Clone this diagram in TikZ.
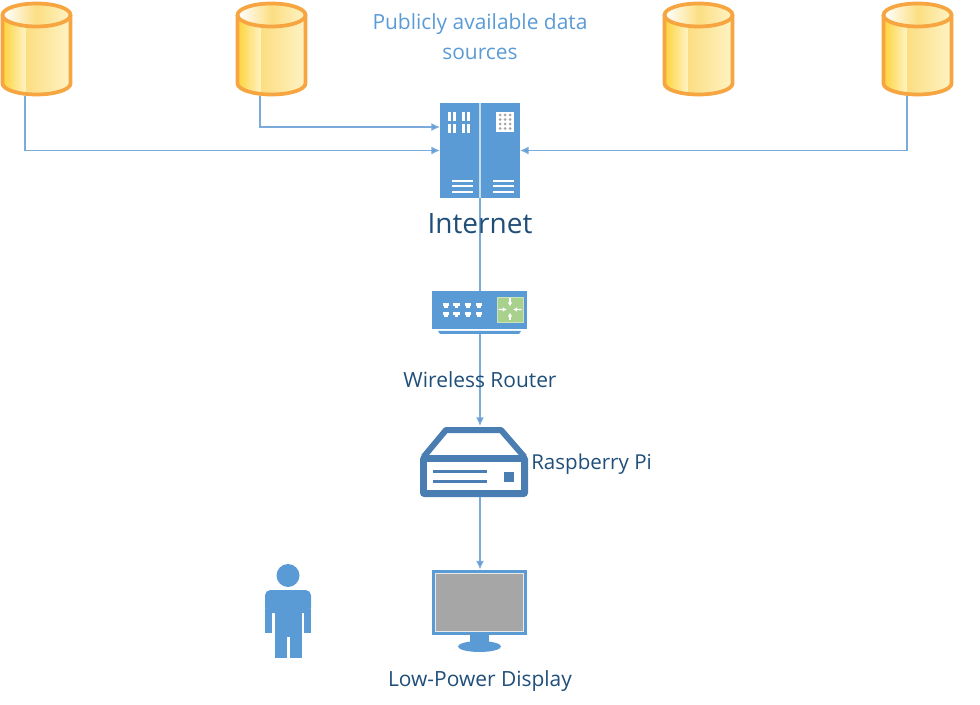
\documentclass[tikz,border=0pt]{standalone}
\usepackage{fontspec}
\setmainfont{Open Sans}
\usetikzlibrary{arrows.meta, positioning, calc}
\definecolor{linkblue}{RGB}{123, 171, 219}
\definecolor{iconblue}{RGB}{91, 155, 213}
\definecolor{pilotblue}{RGB}{74, 126, 178}
\definecolor{labelblue}{RGB}{31, 78, 121}
\definecolor{dborange}{RGB}{246, 165, 64}
\definecolor{dbgold}{RGB}{254, 211, 58}
\definecolor{dbmid}{RGB}{252, 222, 130}
\definecolor{dbpale}{RGB}{254, 243, 196}
\definecolor{routergreen}{RGB}{169, 209, 142}
\definecolor{screengray}{RGB}{166, 166, 166}
\tikzset{
  link/.style={draw=linkblue, line width=0.9pt},
  linkarrow/.style={link, -{Latex[length=6.5pt, width=6pt, fill=iconblue]}},
  iconbox/.style={inner sep=0pt, outer sep=0pt, minimum width=#1},
  caption/.style={text=labelblue, font=\fontsize{15.7}{18}\selectfont, inner sep=0pt},
  dbsource/.pic={
    \begin{scope}
      \clip (0.5,12.5) -- (0.5,81) arc[start angle=180, end angle=0, x radius=34, y radius=11] -- (68.5,12.5) -- cycle;
      \shade[left color=dbgold, right color=dbpale] (0.5,0) rectangle (24,95);
      \shade[left color=dbmid, right color=dbpale] (24,0) rectangle (68.5,95);
    \end{scope}
    \shade[left color=white, right color=dbpale, middle color=dbmid]
      (34.5,12.5) ellipse[x radius=33, y radius=11.5];
    \draw[dborange, line width=2.8pt] (0.5,12.5) -- (0.5,81) arc[start angle=180, end angle=0, x radius=34, y radius=11] -- (68.5,12.5);
    \draw[dborange, line width=2.8pt] (34.5,12.5) ellipse[x radius=34, y radius=11.5];
  },
  serverrack/.pic={
    \fill[iconblue] (0,0) rectangle (80,95);
    \draw[white!65!iconblue, line width=1pt] (40,0) -- (40,95);
    \foreach \x in {7.5,12.7,22,26.7} {
      \fill[white] (\x,9) rectangle ++(3,9);
      \fill[white] (\x,21) rectangle ++(3,9);
    }
    \fill[white] (56,9) rectangle (74,29);
    \foreach \x in {60,65,70}
      \foreach \y in {12,16.5,21,25.5}
        \fill[screengray] (\x,\y) circle[radius=1.5];
    \foreach \y in {77,82,88} {
      \fill[white] (12,\y) rectangle (33,\y+1.6);
      \fill[white] (53,\y) rectangle (74,\y+1.6);
    }
  },
  wifirouter/.pic={
    \fill[iconblue] (0,0) rectangle (95,38);
    \fill[iconblue] (6,40) -- (89,40) -- (87,43) -- (8,43) -- cycle;
    \foreach \x in {14,24.5,36,47} {
      \fill[white] (\x-3.2,12) rectangle ++(6.4,3.5);
      \fill[white] (\x-1.6,15.5) rectangle ++(3.2,1.5);
      \fill[white] (\x-3.2,21) rectangle ++(6.4,3.5);
      \fill[white] (\x-1.6,24.5) rectangle ++(3.2,1.5);
    }
    \fill[routergreen, draw=white!40!routergreen, line width=0.6pt] (65,6) rectangle (91,31);
    \foreach \a/\b in {78/7.5, 78/29.5, 66.5/18.5, 89.5/18.5}
      \draw[white, line width=0.8pt, -{Latex[length=3pt, width=3.5pt]}] (\a,\b) -- ($(\a,\b)!0.72!(78,18.5)$);
  },
  pibox/.pic={
    \draw[pilotblue, line width=4.5pt, line join=round] (3.5,31) -- (26,4) -- (81,4) -- (104.5,31);
    \fill[pilotblue, rounded corners=3pt] (0,29) rectangle (108,71);
    \fill[white] (7,36) rectangle (101,64);
    \fill[pilotblue] (13,44) rectangle (67,47);
    \fill[pilotblue] (13,54) rectangle (67,57);
    \fill[pilotblue] (84,46) rectangle (94,56);
  },
  lowdisplay/.pic={
    \fill[iconblue] (0,0) rectangle (95,65);
    \fill[white!75!screengray] (3,3) rectangle (92,62);
    \fill[screengray] (4,4) rectangle (91,61);
    \fill[iconblue] (38,65.5) rectangle (57,74);
    \fill[iconblue] (47.5,77) ellipse[x radius=21.5, y radius=5.5];
  },
  viewer/.pic={
    \fill[iconblue] (23,11.5) circle[radius=11.5];
    \fill[iconblue, rounded corners=4pt] (0,49) -- (0,26) -- (46,26) -- (46,49) -- cycle;
    \fill[iconblue] (0,45) rectangle (7,69);
    \fill[iconblue] (39,45) rectangle (46,69);
    \fill[iconblue] (10,45) rectangle (37,94);
    \fill[white] (22,73) rectangle (25,94);
  }
}

\begin{document}
\begin{tikzpicture}[x=0.75pt, y=-0.75pt]
  \useasboundingbox (0,0) rectangle (980,705);
  % data sources
  \pic at (2,2.5) {dbsource};
  \pic at (237,2.5) {dbsource};
  \pic at (664,2.5) {dbsource};
  \pic at (883,2.5) {dbsource};
  \coordinate (srcA) at (25,96);
  \coordinate (srcB) at (260,96);
  \coordinate (srcD) at (907,96);
  % equipment
  \pic at (440,103) {serverrack};
  \node[iconbox=60pt, minimum height=71.25pt] (server) at (480,150.5) {};
  \pic at (432,291) {wifirouter};
  \node[iconbox=71.25pt, minimum height=32.25pt] (router) at (480,312.5) {};
  \pic at (420,426) {pibox};
  \node[iconbox=81pt, minimum height=53.25pt] (pi) at (480,461.5) {};
  \pic at (432,569.5) {lowdisplay};
  \node[iconbox=71.25pt, minimum height=48.75pt] (display) at (480,602) {};
  \pic at (265,564) {viewer};
  % connectors
  \draw[linkarrow] (srcA) |- (server.west);
  \draw[linkarrow] (srcB) |- ([yshift=17.6pt]server.west);
  \draw[linkarrow] (srcD) |- (server.east);
  \draw[link] (server.south) -- (router.north);
  \draw[linkarrow] (router.south) -- (pi.north);
  \draw[linkarrow] (pi.south) -- (display.north);
  % labels
  \node[text=iconblue, font=\fontsize{15.7}{22.5}\selectfont, align=center, inner sep=0pt] (title) at (480,37) {Publicly available data\\sources};
  \node[caption, font=\fontsize{21}{24}\selectfont] (netlabel) at (480,224) {Internet};
  \node[caption] (routerlabel) at (480,380) {Wireless Router};
  \node[caption, anchor=west, font=\fontsize{15.4}{18}\selectfont] (pilabel) at (531,464) {Raspberry Pi};
  \node[caption] (displaylabel) at (480,681) {Low-Power Display};
\end{tikzpicture}
\end{document}
